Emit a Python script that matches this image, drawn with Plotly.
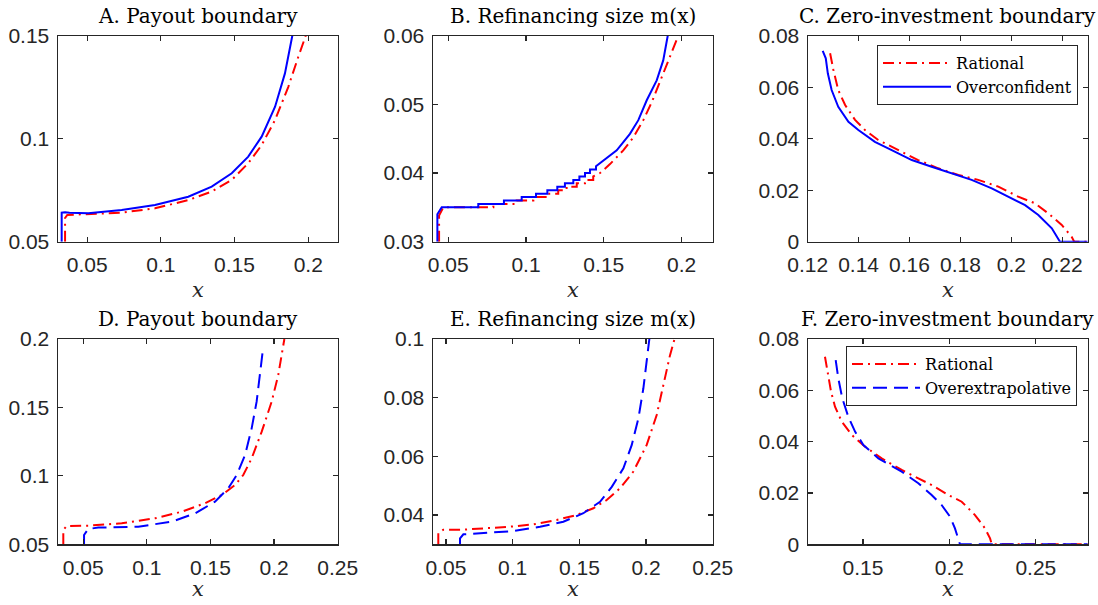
import plotly.graph_objects as go

# ---------------- data ----------------
# Panel A: payout boundary (rational vs overconfident)
a_rat_x = [0.035, 0.035, 0.0365, 0.0508, 0.0734, 0.096, 0.1186, 0.1345, 0.1481, 0.1593, 0.1684, 0.1775, 0.1865, 0.1933, 0.1983]
a_rat_y = [0.05, 0.0615, 0.063, 0.0633, 0.0641, 0.0662, 0.0702, 0.0743, 0.08, 0.0881, 0.0969, 0.1091, 0.1252, 0.1398, 0.15]
a_oc_x = [0.0327, 0.0327, 0.035, 0.038, 0.0508, 0.0734, 0.096, 0.1186, 0.1345, 0.1481, 0.1593, 0.1684, 0.1775, 0.1842, 0.1892]
a_oc_y = [0.05, 0.0641, 0.0643, 0.0641, 0.0638, 0.0654, 0.0678, 0.0718, 0.0767, 0.0832, 0.0913, 0.101, 0.1155, 0.1317, 0.15]

# Panel B: refinancing size m(x)
b_rat_x = [0.0441, 0.0441, 0.0468, 0.079, 0.079, 0.094, 0.094, 0.1047, 0.1047, 0.1133, 0.1133, 0.1207, 0.1207, 0.1261, 0.1261,
           0.1326, 0.1326, 0.1379, 0.1379, 0.1432, 0.1432, 0.1476, 0.154, 0.1625, 0.169, 0.1754, 0.1808, 0.1861, 0.1915, 0.1979]
b_rat_y = [0.03, 0.0338, 0.035, 0.035, 0.0355, 0.0355, 0.036, 0.036, 0.0365, 0.0365, 0.037, 0.037, 0.0375, 0.0375, 0.038,
           0.038, 0.0385, 0.0385, 0.039, 0.039, 0.0395, 0.04, 0.0413, 0.0433, 0.0452, 0.0477, 0.0503, 0.0533, 0.0564, 0.06]
b_oc_x = [0.043, 0.043, 0.0458, 0.0693, 0.0693, 0.0858, 0.0858, 0.0972, 0.0972, 0.1064, 0.1064, 0.1137, 0.1137, 0.1201, 0.1201,
          0.125, 0.125, 0.1304, 0.1304, 0.1343, 0.1343, 0.1379, 0.1379, 0.1411, 0.1411, 0.145, 0.145, 0.1583, 0.1668, 0.1722,
          0.1776, 0.184, 0.1882, 0.1911]
b_oc_y = [0.03, 0.034, 0.035, 0.035, 0.0355, 0.0355, 0.036, 0.036, 0.0365, 0.0365, 0.037, 0.037, 0.0375, 0.0375, 0.038,
          0.038, 0.0385, 0.0385, 0.039, 0.039, 0.0395, 0.0395, 0.04, 0.04, 0.0405, 0.0405, 0.041, 0.0433, 0.0457, 0.0477,
          0.0506, 0.0535, 0.0564, 0.06]

# Panel C: zero-investment boundary
c_rat_x = [0.1288, 0.1301, 0.132, 0.1347, 0.1386, 0.1425, 0.1477, 0.1556, 0.1634, 0.1713, 0.1792, 0.187, 0.1949, 0.2027,
           0.2093, 0.2145, 0.2198, 0.2237, 0.2247, 0.23]
c_rat_y = [0.0732, 0.0667, 0.0589, 0.0531, 0.0473, 0.0434, 0.0395, 0.0356, 0.0317, 0.0285, 0.0259, 0.024, 0.0214, 0.0175,
           0.0149, 0.011, 0.0065, 0.0019, 0.0, 0.0]
c_oc_x = [0.1259, 0.1271, 0.1279, 0.1294, 0.132, 0.136, 0.1399, 0.1464, 0.153, 0.1609, 0.1687, 0.1766, 0.1844, 0.1923,
          0.2001, 0.2054, 0.2106, 0.2159, 0.2191, 0.23]
c_oc_y = [0.0741, 0.0712, 0.0654, 0.0589, 0.0524, 0.0466, 0.0434, 0.0388, 0.0356, 0.0317, 0.0291, 0.0266, 0.024, 0.0207,
          0.0169, 0.0142, 0.0104, 0.0052, 0.0, 0.0]

# Panel D: payout boundary (rational vs overextrapolative)
d_rat_x = [0.0344, 0.0344, 0.0371, 0.054, 0.0803, 0.1065, 0.1274, 0.1457, 0.1589, 0.1693, 0.1758, 0.1824, 0.1903, 0.1981, 0.2033, 0.2081]
d_rat_y = [0.05, 0.0604, 0.0634, 0.0636, 0.0653, 0.069, 0.0738, 0.08, 0.086, 0.0933, 0.1006, 0.1128, 0.1323, 0.1542, 0.1737, 0.2]
d_ox_x = [0.0507, 0.0507, 0.054, 0.0619, 0.0933, 0.1196, 0.1379, 0.1536, 0.164, 0.1706, 0.1772, 0.1824, 0.1863, 0.189, 0.1915]
d_ox_y = [0.05, 0.0568, 0.0612, 0.0622, 0.0629, 0.0665, 0.0726, 0.0811, 0.0909, 0.1006, 0.1152, 0.1347, 0.1542, 0.1737, 0.1944]

# Panel E: refinancing size m(x)
e_rat_x = [0.0442, 0.0442, 0.048, 0.063, 0.0805, 0.098, 0.1155, 0.133, 0.148, 0.1605, 0.1705, 0.1805, 0.1905, 0.2005,
           0.208, 0.213, 0.218, 0.2212]
e_rat_y = [0.03, 0.0338, 0.035, 0.035, 0.0355, 0.036, 0.0368, 0.0383, 0.04, 0.0423, 0.0451, 0.0491, 0.0548, 0.0639,
           0.0741, 0.0843, 0.0945, 0.0997]
e_ox_x = [0.0605, 0.0605, 0.063, 0.0755, 0.1005, 0.1205, 0.138, 0.153, 0.1655, 0.1743, 0.183, 0.1893, 0.1943, 0.198, 0.2005, 0.2025]
e_ox_y = [0.03, 0.032, 0.0334, 0.0338, 0.0345, 0.036, 0.0377, 0.0406, 0.0445, 0.0496, 0.0559, 0.0639, 0.073, 0.0832, 0.0923, 0.1]

# Panel F: zero-investment boundary
f_rat_x = [0.128, 0.1296, 0.1315, 0.1338, 0.1377, 0.1435, 0.1512, 0.1608, 0.1724, 0.182, 0.1897, 0.1994, 0.2071, 0.2148,
           0.2206, 0.2235, 0.2245, 0.28]
f_rat_y = [0.0731, 0.066, 0.0595, 0.0536, 0.0478, 0.0426, 0.038, 0.0335, 0.029, 0.0257, 0.0231, 0.0192, 0.0166, 0.0114,
           0.0062, 0.0023, 0.0, 0.0]
f_ox_x = [0.1342, 0.1357, 0.138, 0.1415, 0.1454, 0.1502, 0.1589, 0.1724, 0.182, 0.1897, 0.1955, 0.2003, 0.2032, 0.2061, 0.28]
f_ox_y = [0.0718, 0.0647, 0.0569, 0.0497, 0.0439, 0.0387, 0.0335, 0.0283, 0.0238, 0.0192, 0.0153, 0.0108, 0.0062, 0.0, 0.0]

panel_titles = ["A. Payout boundary", "B. Refinancing size m(x)", "C. Zero-investment boundary",
                "D. Payout boundary", "E. Refinancing size m(x)", "F. Zero-investment boundary"]
series_names = ["Rational", "Overconfident", "Overextrapolative"]

x_ranges = [[0.03, 0.22], [0.04, 0.22], [0.12, 0.23], [0.03, 0.25], [0.04, 0.25], [0.118, 0.28]]
y_ranges = [[0.05, 0.15], [0.03, 0.06], [0.0, 0.08], [0.05, 0.2], [0.03, 0.1], [0.0, 0.08]]

x_tickvals = [[0.05, 0.1, 0.15, 0.2], [0.05, 0.1, 0.15, 0.2], [0.12, 0.14, 0.16, 0.18, 0.2, 0.22],
              [0.05, 0.1, 0.15, 0.2, 0.25], [0.05, 0.1, 0.15, 0.2, 0.25], [0.15, 0.2, 0.25]]
x_ticktext = [["0.05", "0.1", "0.15", "0.2"], ["0.05", "0.1", "0.15", "0.2"],
              ["0.12", "0.14", "0.16", "0.18", "0.2", "0.22"],
              ["0.05", "0.1", "0.15", "0.2", "0.25"], ["0.05", "0.1", "0.15", "0.2", "0.25"], ["0.15", "0.2", "0.25"]]
y_tickvals = [[0.05, 0.1, 0.15], [0.03, 0.04, 0.05, 0.06], [0, 0.02, 0.04, 0.06, 0.08],
              [0.05, 0.1, 0.15, 0.2], [0.04, 0.06, 0.08, 0.1], [0, 0.02, 0.04, 0.06, 0.08]]
y_ticktext = [["0.05", "0.1", "0.15"], ["0.03", "0.04", "0.05", "0.06"], ["0", "0.02", "0.04", "0.06", "0.08"],
              ["0.05", "0.1", "0.15", "0.2"], ["0.04", "0.06", "0.08", "0.1"], ["0", "0.02", "0.04", "0.06", "0.08"]]

# ---------------- figure ----------------
W, H = 1098, 605
RED, BLUE = "#FF0000", "#0000FF"
DASHDOT = "11px,5px,2px,5px"
DASHED = "14px,7px"
LW = 2
AXC = "#262626"
SERIF = "DejaVu Serif"
SANS = "Liberation Sans"

col_px = [(57.7, 337.7), (432.7, 712.7), (807.7, 1087.7)]
row_px = [(35.7, 241.7), (339.0, 544.3)]

fig = go.Figure()

panels = [
    (a_rat_x, a_rat_y, a_oc_x, a_oc_y, "solid", None),
    (b_rat_x, b_rat_y, b_oc_x, b_oc_y, "solid", None),
    (c_rat_x, c_rat_y, c_oc_x, c_oc_y, "solid", "legend"),
    (d_rat_x, d_rat_y, d_ox_x, d_ox_y, DASHED, None),
    (e_rat_x, e_rat_y, e_ox_x, e_ox_y, DASHED, None),
    (f_rat_x, f_rat_y, f_ox_x, f_ox_y, DASHED, "legend2"),
]

for i, (rx, ry, bx, by, bdash, leg) in enumerate(panels):
    k = i + 1
    xa = "x" if k == 1 else f"x{k}"
    ya = "y" if k == 1 else f"y{k}"
    blue_name = series_names[1] if i < 3 else series_names[2]
    fig.add_trace(go.Scatter(x=rx, y=ry, mode="lines", xaxis=xa, yaxis=ya,
                             line=dict(color=RED, width=LW, dash=DASHDOT),
                             name=series_names[0], showlegend=leg is not None,
                             legend=leg if leg else "legend"))
    fig.add_trace(go.Scatter(x=bx, y=by, mode="lines", xaxis=xa, yaxis=ya,
                             line=dict(color=BLUE, width=LW, dash=bdash),
                             name=blue_name, showlegend=leg is not None,
                             legend=leg if leg else "legend"))

layout = dict(template="none", width=W, height=H, margin=dict(l=0, r=0, t=0, b=0, autoexpand=False),
              paper_bgcolor="white", plot_bgcolor="white", showlegend=True)

annotations = []
for i in range(6):
    k = i + 1
    r, c = divmod(i, 3)
    x0, x1 = col_px[c]
    y0, y1 = row_px[r]
    xkey = "xaxis" if k == 1 else f"xaxis{k}"
    ykey = "yaxis" if k == 1 else f"yaxis{k}"
    ya = "y" if k == 1 else f"y{k}"
    xa = "x" if k == 1 else f"x{k}"
    common = dict(showline=True, linecolor=AXC, linewidth=1.2, mirror="ticks", ticks="inside",
                  ticklen=5, tickwidth=1.2, tickcolor=AXC, showgrid=False, zeroline=False,
                  automargin=False,
                  tickfont=dict(family=SANS, size=21, color=AXC), fixedrange=True)
    layout[xkey] = dict(domain=[x0 / W, x1 / W], range=x_ranges[i], anchor=ya,
                        tickmode="array", tickvals=x_tickvals[i], ticktext=x_ticktext[i],
                        ticklabelstandoff=4, **common)
    layout[ykey] = dict(domain=[1 - y1 / H, 1 - y0 / H], range=y_ranges[i], anchor=xa,
                        tickmode="array", tickvals=y_tickvals[i], ticktext=y_ticktext[i],
                        ticklabelstandoff=3, **common)
    cx = (x0 + x1) / 2 / W
    ty = 16.5 if r == 0 else 318.5
    annotations.append(dict(text=panel_titles[i], x=cx, y=1 - ty / H, xref="paper", yref="paper",
                            xanchor="center", yanchor="middle", showarrow=False,
                            font=dict(family=SERIF, size=20, color="black")))
    lx = 289.5 if r == 0 else 588.5
    annotations.append(dict(text="<i>x</i>", x=cx, y=1 - lx / H, xref="paper", yref="paper",
                            xanchor="center", yanchor="middle", showarrow=False,
                            font=dict(family=SERIF, size=21, color=AXC)))
layout["annotations"] = annotations

leg_common = dict(bgcolor="white", bordercolor=AXC, borderwidth=1, itemwidth=68,
                  font=dict(family=SERIF, size=16, color="black"),
                  xanchor="left", yanchor="top", tracegroupgap=0)
layout["legend"] = dict(x=877 / W, y=1 - 45 / H, **leg_common)
layout["legend2"] = dict(x=846 / W, y=1 - 346 / H, **leg_common)

fig.update_layout(**layout)
fig.write_html("out.html", config={"displayModeBar": False, "staticPlot": True},
               post_script="document.body.style.margin='0';document.body.style.overflow='hidden';")
